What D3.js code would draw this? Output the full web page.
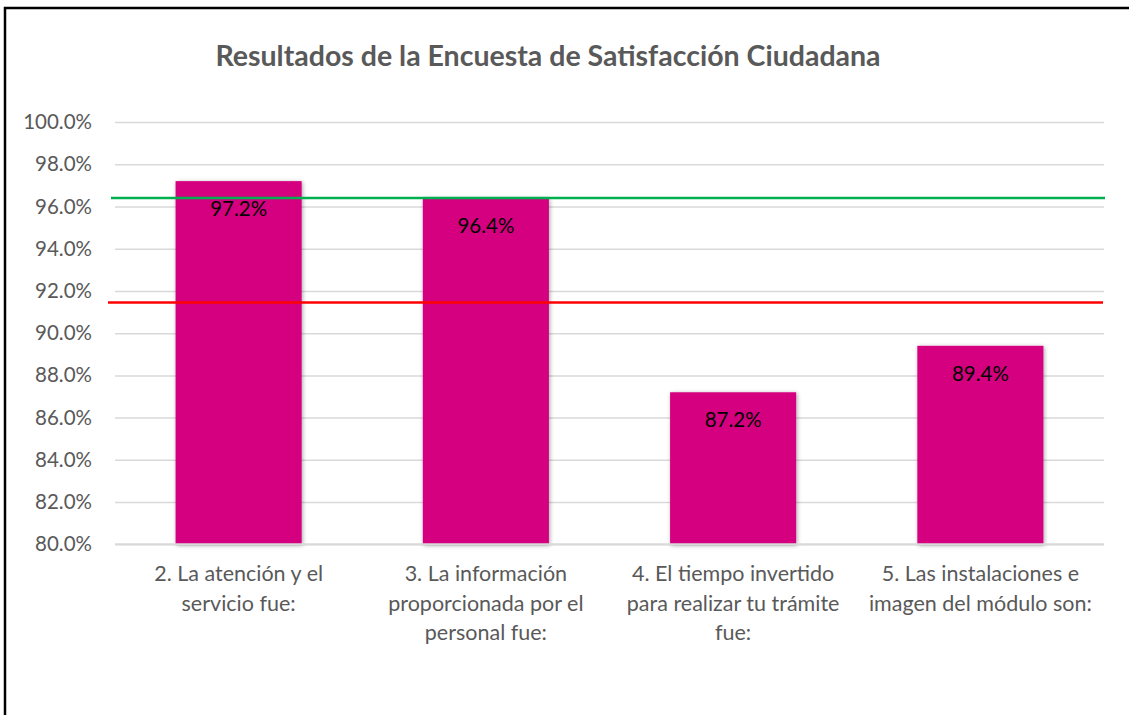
<!DOCTYPE html>
<html>
<head>
<meta charset="utf-8">
<script src="https://cdn.jsdelivr.net/npm/d3@7"></script>
<style>
  body { margin: 0; background: #fff; }
  svg { display: block; font-family: Lato, "Open Sans", sans-serif; }
</style>
</head>
<body>
<script>
// data
const categories = [
  '2. La atención y el\nservicio fue:',
  '3. La información\nproporcionada por el\npersonal fue:',
  '4. El tiempo invertido\npara realizar tu trámite\nfue:',
  '5. Las instalaciones e\nimagen del módulo son:'
];
const values = [0.972, 0.964, 0.872, 0.894];
const refValues = [0.964, 0.9145];   // green (goal) and red reference lines
const yTicks = d3.range(0.80, 1.0001, 0.02);
const title = 'Resultados de la Encuesta de Satisfacción Ciudadana';

let width = 1129, height = 715;
let margin = {top: 122, right: 25, bottom: 171, left: 115};

let svg = d3.select('body').append('svg')
    .attr('width', width)
    .attr('height', height);

// drop shadow for the bars
let defs = svg.append('defs');
defs.append('filter').attr('id', 'shadow')
    .attr('x', '-10%').attr('y', '-10%').attr('width', '120%').attr('height', '120%')
  .append('feDropShadow')
    .attr('dx', 1).attr('dy', 1)
    .attr('stdDeviation', 2)
    .attr('flood-color', '#000')
    .attr('flood-opacity', 0.35);

// chart border (cropped on the right / bottom in the original)
svg.append('rect')
    .attr('x', 5).attr('y', 8)
    .attr('width', 1200).attr('height', 800)
    .attr('fill', 'none')
    .attr('stroke', '#000')
    .attr('stroke-width', 2.5);

svg.append('text')
    .attr('x', 548).attr('y', 66)
    .attr('text-anchor', 'middle')
    .style('font-size', '28.5px')
    .style('font-weight', 'bold')
    .style('fill', '#595959')
    .text(title);

let x = d3.scaleBand()
    .domain(categories)
    .range([margin.left, 1104]);

let y = d3.scaleLinear()
    .domain([0.80, 1.0])
    .range([544.3, margin.top]);

// gridlines + y labels
let yAxis = svg.append('g')
    .attr('transform', `translate(${margin.left},0)`)
    .call(d3.axisLeft(y)
        .tickValues(yTicks)
        .tickFormat(d3.format('.1%'))
        .tickSize(-(1104 - margin.left))
        .tickPadding(23));
yAxis.select('.domain').remove();
yAxis.selectAll('.tick line')
    .attr('stroke', '#d9d9d9')
    .attr('stroke-width', 1.5);
yAxis.selectAll('.tick text')
    .style('font-family', 'Lato, "Open Sans", sans-serif')
    .style('font-size', '20.5px')
    .style('fill', '#595959');

// bars
let barW = x.bandwidth() * 0.51;
svg.append('g').selectAll('rect')
    .data(values)
    .join('rect')
    .attr('x', (d, i) => x(categories[i]) + (x.bandwidth() - barW) / 2)
    .attr('y', d => y(d))
    .attr('width', barW)
    .attr('height', d => y(0.80) - y(d))
    .attr('fill', '#d5007f')
    .attr('filter', 'url(#shadow)');

// base line over the bars
svg.append('line')
    .attr('x1', margin.left).attr('x2', 1104)
    .attr('y1', y(0.80)).attr('y2', y(0.80))
    .attr('stroke', '#d9d9d9')
    .attr('stroke-width', 2);

// reference lines
let refColors = ['#00b050', '#ff0000'];
svg.append('g').selectAll('line')
    .data(refValues)
    .join('line')
    .attr('x1', (d, i) => i === 0 ? 111 : 108)
    .attr('x2', (d, i) => i === 0 ? 1105 : 1103)
    .attr('y1', d => y(d))
    .attr('y2', d => y(d))
    .attr('stroke', (d, i) => refColors[i])
    .attr('stroke-width', 2.5);

// value labels, inside end
svg.append('g').selectAll('text')
    .data(values)
    .join('text')
    .attr('x', (d, i) => x(categories[i]) + x.bandwidth() / 2)
    .attr('y', d => y(d) + 35)
    .attr('text-anchor', 'middle')
    .style('font-size', '20.5px')
    .style('fill', '#000')
    .text(d => d3.format('.1%')(d));

// category labels
let cat = svg.append('g').selectAll('text')
    .data(categories)
    .join('text')
    .attr('x', d => x(d) + x.bandwidth() / 2)
    .attr('y', y(0.80) + 37)
    .attr('text-anchor', 'middle')
    .style('font-size', '21.5px')
    .style('fill', '#595959');
cat.selectAll('tspan')
    .data(d => d.split('\n'))
    .join('tspan')
    .attr('x', function() { return this.parentNode.getAttribute('x'); })
    .attr('dy', (d, i) => i === 0 ? 0 : 29.5)
    .text(d => d);
</script>
</body>
</html>
